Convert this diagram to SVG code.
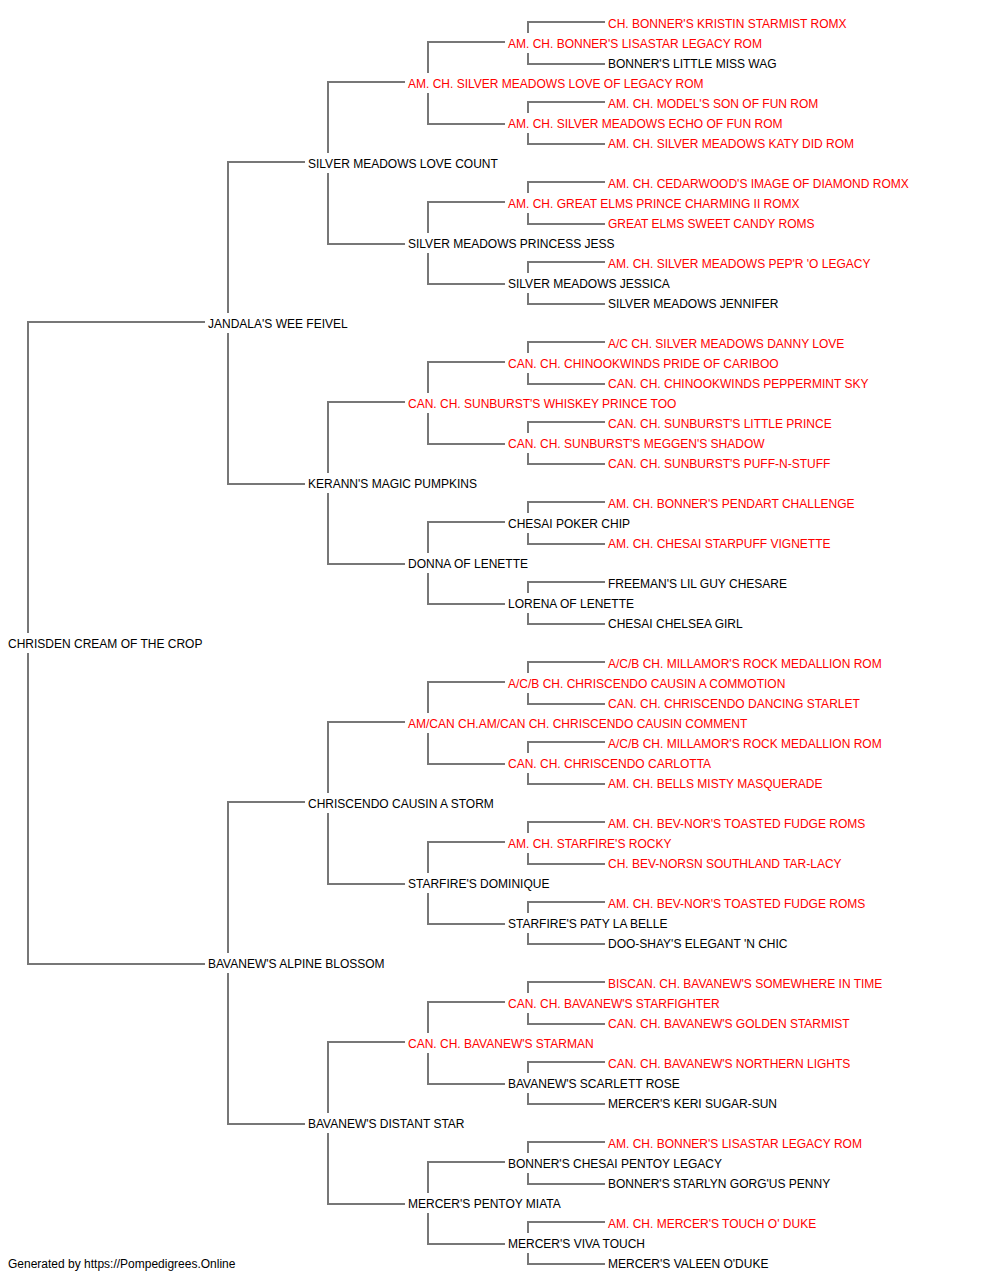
<svg xmlns="http://www.w3.org/2000/svg" width="1000" height="1280" viewBox="0 0 1000 1280">
<style>
text{font-family:"Liberation Sans",Arial,sans-serif;font-size:12px;fill:#000}
text.t{fill:#ff0000}
.c path{fill:none;stroke:#777;stroke-width:2}
</style>
<rect width="1000" height="1280" fill="#fff"/>
<g class="c" id="connectors">
<path d="M605,22H528V33M528,53V64H605"/>
<path d="M605,102H528V113M528,133V144H605"/>
<path d="M605,182H528V193M528,213V224H605"/>
<path d="M605,262H528V273M528,293V304H605"/>
<path d="M605,342H528V353M528,373V384H605"/>
<path d="M605,422H528V433M528,453V464H605"/>
<path d="M605,502H528V513M528,533V544H605"/>
<path d="M605,582H528V593M528,613V624H605"/>
<path d="M605,662H528V673M528,693V704H605"/>
<path d="M605,742H528V753M528,773V784H605"/>
<path d="M605,822H528V833M528,853V864H605"/>
<path d="M605,902H528V913M528,933V944H605"/>
<path d="M605,982H528V993M528,1013V1024H605"/>
<path d="M605,1062H528V1073M528,1093V1104H605"/>
<path d="M605,1142H528V1153M528,1173V1184H605"/>
<path d="M605,1222H528V1233M528,1253V1264H605"/>
<path d="M505,42H428V73M428,93V124H505"/>
<path d="M505,202H428V233M428,253V284H505"/>
<path d="M505,362H428V393M428,413V444H505"/>
<path d="M505,522H428V553M428,573V604H505"/>
<path d="M505,682H428V713M428,733V764H505"/>
<path d="M505,842H428V873M428,893V924H505"/>
<path d="M505,1002H428V1033M428,1053V1084H505"/>
<path d="M505,1162H428V1193M428,1213V1244H505"/>
<path d="M405,82H328V153M328,173V244H405"/>
<path d="M405,402H328V473M328,493V564H405"/>
<path d="M405,722H328V793M328,813V884H405"/>
<path d="M405,1042H328V1113M328,1133V1204H405"/>
<path d="M305,162H228V313M228,333V484H305"/>
<path d="M305,802H228V953M228,973V1124H305"/>
<path d="M205,322H28V633M28,653V964H205"/>
</g>
<g id="n0"><text class="t" x="608" y="28">CH. BONNER'S KRISTIN STARMIST ROMX</text></g>
<g id="n1"><text class="t" x="508" y="48">AM. CH. BONNER'S LISASTAR LEGACY ROM</text></g>
<g id="n2"><text x="608" y="68">BONNER'S LITTLE MISS WAG</text></g>
<g id="n3"><text class="t" x="408" y="88">AM. CH. SILVER MEADOWS LOVE OF LEGACY ROM</text></g>
<g id="n4"><text class="t" x="608" y="108">AM. CH. MODEL'S SON OF FUN ROM</text></g>
<g id="n5"><text class="t" x="508" y="128">AM. CH. SILVER MEADOWS ECHO OF FUN ROM</text></g>
<g id="n6"><text class="t" x="608" y="148">AM. CH. SILVER MEADOWS KATY DID ROM</text></g>
<g id="n7"><text x="308" y="168">SILVER MEADOWS LOVE COUNT</text></g>
<g id="n8"><text class="t" x="608" y="188">AM. CH. CEDARWOOD'S IMAGE OF DIAMOND ROMX</text></g>
<g id="n9"><text class="t" x="508" y="208">AM. CH. GREAT ELMS PRINCE CHARMING II ROMX</text></g>
<g id="n10"><text class="t" x="608" y="228">GREAT ELMS SWEET CANDY ROMS</text></g>
<g id="n11"><text x="408" y="248">SILVER MEADOWS PRINCESS JESS</text></g>
<g id="n12"><text class="t" x="608" y="268">AM. CH. SILVER MEADOWS PEP'R 'O LEGACY</text></g>
<g id="n13"><text x="508" y="288">SILVER MEADOWS JESSICA</text></g>
<g id="n14"><text x="608" y="308">SILVER MEADOWS JENNIFER</text></g>
<g id="n15"><text x="208" y="328">JANDALA'S WEE FEIVEL</text></g>
<g id="n16"><text class="t" x="608" y="348">A/C CH. SILVER MEADOWS DANNY LOVE</text></g>
<g id="n17"><text class="t" x="508" y="368">CAN. CH. CHINOOKWINDS PRIDE OF CARIBOO</text></g>
<g id="n18"><text class="t" x="608" y="388">CAN. CH. CHINOOKWINDS PEPPERMINT SKY</text></g>
<g id="n19"><text class="t" x="408" y="408">CAN. CH. SUNBURST'S WHISKEY PRINCE TOO</text></g>
<g id="n20"><text class="t" x="608" y="428">CAN. CH. SUNBURST'S LITTLE PRINCE</text></g>
<g id="n21"><text class="t" x="508" y="448">CAN. CH. SUNBURST'S MEGGEN'S SHADOW</text></g>
<g id="n22"><text class="t" x="608" y="468">CAN. CH. SUNBURST'S PUFF-N-STUFF</text></g>
<g id="n23"><text x="308" y="488">KERANN'S MAGIC PUMPKINS</text></g>
<g id="n24"><text class="t" x="608" y="508">AM. CH. BONNER'S PENDART CHALLENGE</text></g>
<g id="n25"><text x="508" y="528">CHESAI POKER CHIP</text></g>
<g id="n26"><text class="t" x="608" y="548">AM. CH. CHESAI STARPUFF VIGNETTE</text></g>
<g id="n27"><text x="408" y="568">DONNA OF LENETTE</text></g>
<g id="n28"><text x="608" y="588">FREEMAN'S LIL GUY CHESARE</text></g>
<g id="n29"><text x="508" y="608">LORENA OF LENETTE</text></g>
<g id="n30"><text x="608" y="628">CHESAI CHELSEA GIRL</text></g>
<g id="n31"><text x="8" y="648">CHRISDEN CREAM OF THE CROP</text></g>
<g id="n32"><text class="t" x="608" y="668">A/C/B CH. MILLAMOR'S ROCK MEDALLION ROM</text></g>
<g id="n33"><text class="t" x="508" y="688">A/C/B CH. CHRISCENDO CAUSIN A COMMOTION</text></g>
<g id="n34"><text class="t" x="608" y="708">CAN. CH. CHRISCENDO DANCING STARLET</text></g>
<g id="n35"><text class="t" x="408" y="728">AM/CAN CH.AM/CAN CH. CHRISCENDO CAUSIN COMMENT</text></g>
<g id="n36"><text class="t" x="608" y="748">A/C/B CH. MILLAMOR'S ROCK MEDALLION ROM</text></g>
<g id="n37"><text class="t" x="508" y="768">CAN. CH. CHRISCENDO CARLOTTA</text></g>
<g id="n38"><text class="t" x="608" y="788">AM. CH. BELLS MISTY MASQUERADE</text></g>
<g id="n39"><text x="308" y="808">CHRISCENDO CAUSIN A STORM</text></g>
<g id="n40"><text class="t" x="608" y="828">AM. CH. BEV-NOR'S TOASTED FUDGE ROMS</text></g>
<g id="n41"><text class="t" x="508" y="848">AM. CH. STARFIRE'S ROCKY</text></g>
<g id="n42"><text class="t" x="608" y="868">CH. BEV-NORSN SOUTHLAND TAR-LACY</text></g>
<g id="n43"><text x="408" y="888">STARFIRE'S DOMINIQUE</text></g>
<g id="n44"><text class="t" x="608" y="908">AM. CH. BEV-NOR'S TOASTED FUDGE ROMS</text></g>
<g id="n45"><text x="508" y="928">STARFIRE'S PATY LA BELLE</text></g>
<g id="n46"><text x="608" y="948">DOO-SHAY'S ELEGANT 'N CHIC</text></g>
<g id="n47"><text x="208" y="968">BAVANEW'S ALPINE BLOSSOM</text></g>
<g id="n48"><text class="t" x="608" y="988">BISCAN. CH. BAVANEW'S SOMEWHERE IN TIME</text></g>
<g id="n49"><text class="t" x="508" y="1008">CAN. CH. BAVANEW'S STARFIGHTER</text></g>
<g id="n50"><text class="t" x="608" y="1028">CAN. CH. BAVANEW'S GOLDEN STARMIST</text></g>
<g id="n51"><text class="t" x="408" y="1048">CAN. CH. BAVANEW'S STARMAN</text></g>
<g id="n52"><text class="t" x="608" y="1068">CAN. CH. BAVANEW'S NORTHERN LIGHTS</text></g>
<g id="n53"><text x="508" y="1088">BAVANEW'S SCARLETT ROSE</text></g>
<g id="n54"><text x="608" y="1108">MERCER'S KERI SUGAR-SUN</text></g>
<g id="n55"><text x="308" y="1128">BAVANEW'S DISTANT STAR</text></g>
<g id="n56"><text class="t" x="608" y="1148">AM. CH. BONNER'S LISASTAR LEGACY ROM</text></g>
<g id="n57"><text x="508" y="1168">BONNER'S CHESAI PENTOY LEGACY</text></g>
<g id="n58"><text x="608" y="1188">BONNER'S STARLYN GORG'US PENNY</text></g>
<g id="n59"><text x="408" y="1208">MERCER'S PENTOY MIATA</text></g>
<g id="n60"><text class="t" x="608" y="1228">AM. CH. MERCER'S TOUCH O' DUKE</text></g>
<g id="n61"><text x="508" y="1248">MERCER'S VIVA TOUCH</text></g>
<g id="n62"><text x="608" y="1268">MERCER'S VALEEN O'DUKE</text></g>
<g id="footer"><text x="8" y="1268">Generated by https://Pompedigrees.Online</text></g>
</svg>
